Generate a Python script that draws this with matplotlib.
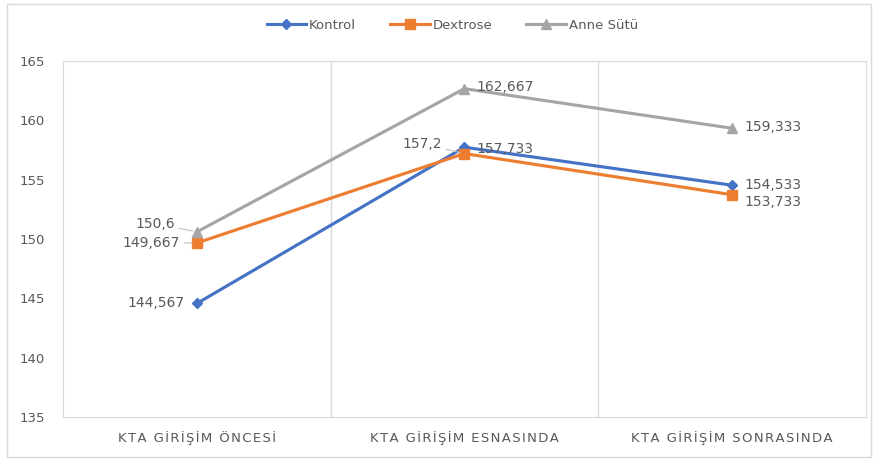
import matplotlib
matplotlib.use("Agg")
import matplotlib.pyplot as plt
from matplotlib.patches import Rectangle

categories = ["KTA GİRİŞİM ÖNCESİ", "KTA GİRİŞİM ESNASINDA", "KTA GİRİŞİM SONRASINDA"]
kontrol = [144.567, 157.733, 154.533]
dextrose = [149.667, 157.2, 153.733]
anne_sutu = [150.6, 162.667, 159.333]
kontrol_labels = ["144,567", "157,733", "154,533"]
dextrose_labels = ["149,667", "157,2", "153,733"]
anne_labels = ["150,6", "162,667", "159,333"]
yticks = [135, 140, 145, 150, 155, 160, 165]

TXT = "#595959"
GRID = "#d9d9d9"

fig = plt.figure(figsize=(8.78, 4.61), dpi=100)
fig.patches.append(Rectangle((0.008, 0.008), 0.984, 0.984, transform=fig.transFigure,
                             fill=False, edgecolor=GRID, linewidth=1.0))
ax = fig.add_axes([0.0718, 0.0954, 0.9142, 0.7723])

x = list(range(len(categories)))
series = [
    ("Kontrol", kontrol, kontrol_labels, "#4472C4", "D", 5),
    ("Dextrose", dextrose, dextrose_labels, "#ED7D31", "s", 7),
    ("Anne Sütü", anne_sutu, anne_labels, "#A5A5A5", "^", 7),
]
for name, vals, labs, col, mk, ms in series:
    ax.plot(x, vals, color=col, linewidth=2.25, marker=mk, markersize=ms,
            label=name, zorder=3)

# data labels: (dx, dy) offsets in points, horizontal alignment, leader line
offsets = {
    "Kontrol": [(-9, 0, "right", False), (9, -1, "left", False), (9, 0, "left", False)],
    "Dextrose": [(-12, 0, "right", True), (-16, 7, "right", True), (9, -5, "left", False)],
    "Anne Sütü": [(-16, 6, "right", True), (9, 1, "left", False), (9, 1, "left", False)],
}
for name, vals, labs, col, mk, ms in series:
    for i, (v, lab) in enumerate(zip(vals, labs)):
        dx, dy, ha, lead = offsets[name][i]
        arrow = dict(arrowstyle="-", color="#bfbfbf", lw=0.8,
                     shrinkA=1, shrinkB=3) if lead else None
        ax.annotate(lab, (i, v), xytext=(dx, dy), textcoords="offset points",
                    ha=ha, va="center", fontsize=10, color=TXT,
                    arrowprops=arrow)

ax.set_xlim(-0.5, 2.5)
ax.set_ylim(135, 165)
ax.set_yticks(yticks)
ax.set_yticklabels([str(t) for t in yticks])
ax.set_xticks(x)
# letter-spaced category names
spaced = ["\u200a".join(c) for c in categories]
ax.set_xticklabels(spaced, fontsize=9.5, color=TXT)
for v in [0.5, 1.5]:
    ax.axvline(v, color=GRID, linewidth=1.0, zorder=1)
for s in ax.spines.values():
    s.set_color(GRID)
ax.tick_params(axis="both", length=0, colors=TXT)
ax.tick_params(axis="y", labelsize=9.5, pad=13)
ax.tick_params(axis="x", pad=10)

leg = fig.legend(loc="upper center", bbox_to_anchor=(0.515, 0.985), ncol=3,
                 frameon=False, fontsize=9.5, handlelength=3.0, handletextpad=0.2,
                 columnspacing=2.6)
for t in leg.get_texts():
    t.set_color(TXT)

fig.savefig("out.png", dpi=100)
